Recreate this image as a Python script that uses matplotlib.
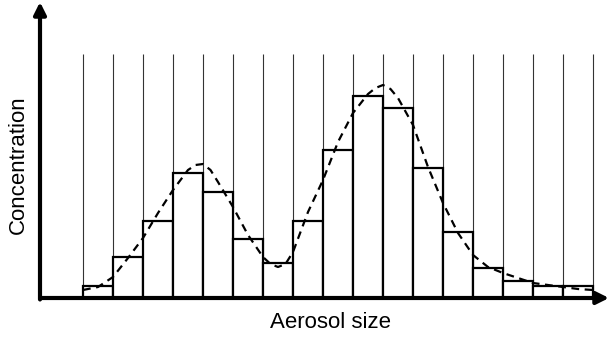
import numpy as np
import matplotlib
matplotlib.use('Agg')
import matplotlib.pyplot as plt

plt.rcParams['font.family'] = ['Liberation Sans', 'DejaVu Sans']

# measured concentration per size bin (17 bins, unit width)
bin_heights = [12, 41, 77, 125, 106, 59, 35, 77, 148, 202, 190, 130, 66, 30, 17, 12, 12]

# smooth size distribution, sampled along the size axis
curve_x = [0, 0.5, 1, 1.5, 2, 2.5, 3, 3.5, 3.75, 4, 4.25, 4.5, 5, 5.5, 6, 6.25, 6.5, 6.75,
           7, 7.5, 8, 8.5, 9, 9.5, 9.75, 10, 10.25, 10.5, 11, 11.5, 12, 12.5, 13, 13.5,
           14, 14.5, 15, 15.5, 16, 16.5, 17]
curve_y = [8, 11, 21, 40, 60, 85, 108, 128, 133, 134, 128, 116, 91, 63, 41, 34, 31, 34,
           46, 86, 118, 156, 185, 204, 210, 213, 209, 200, 173, 131, 95, 65, 43, 31,
           25, 20, 15, 13, 11, 9, 8]

grid_top = 244

fig = plt.figure(figsize=(6.09, 3.37), dpi=100)
ax = fig.add_axes([40 / 609, 39 / 337, 569 / 609, 296 / 337])
ax.set_xlim(-43 / 30, 526 / 30)
ax.set_ylim(0, 296)
ax.axis('off')

edges = np.arange(len(bin_heights) + 1)
ax.vlines(edges, 0, grid_top, color='#333333', lw=0.8, zorder=1)

ax.bar(edges[:-1], bin_heights, width=1, align='edge', facecolor='white',
       edgecolor='black', lw=1.6, zorder=2)

ax.plot(curve_x, curve_y, color='black', lw=1.6, ls=(0, (3.5, 2.5)), zorder=3)

# axes drawn as arrows
arrow = dict(arrowstyle='-|>', lw=3, color='black', mutation_scale=18,
             shrinkA=0, shrinkB=0)
ax.annotate('', xy=(1, 0), xytext=(0, 0), xycoords='axes fraction',
            arrowprops=arrow, annotation_clip=False)
ax.annotate('', xy=(0, 1), xytext=(0, -0.005), xycoords='axes fraction',
            arrowprops=arrow, annotation_clip=False)

fig.text(331 / 609, 1 - 323 / 337, 'Aerosol size', ha='center', va='center', fontsize=16)
fig.text(18 / 609, 1 - 165 / 337, 'Concentration', ha='center', va='center',
         rotation=90, fontsize=16)

fig.savefig('out.png', dpi=100, facecolor='white')
